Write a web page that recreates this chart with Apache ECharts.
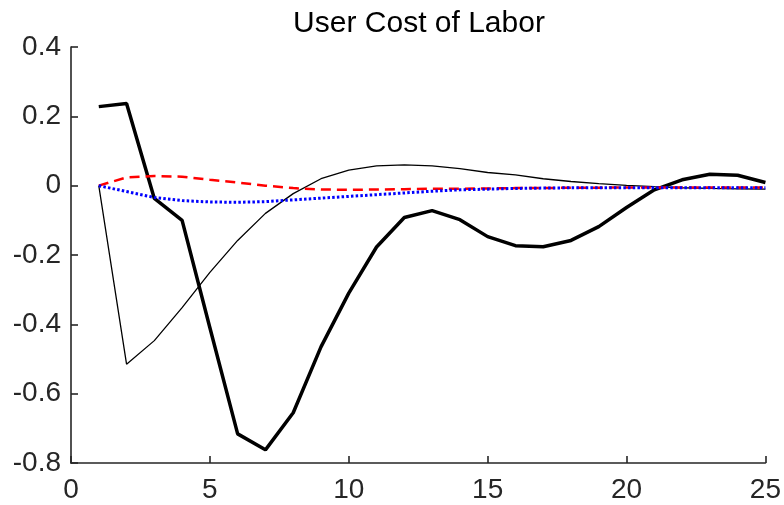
<!DOCTYPE html>
<html>
<head>
<meta charset="utf-8">
<script src="https://cdn.jsdelivr.net/npm/echarts@6/dist/echarts.min.js"></script>
<style>
	html, body { margin: 0; padding: 0; background: #fff; }
	#chart { width: 784px; height: 505px; }
</style>
</head>
<body>
<div id="chart"></div>
<script>
let periods = [1, 2, 3, 4, 5, 6, 7, 8, 9, 10, 11, 12, 13, 14, 15, 16, 17, 18, 19, 20, 21, 22, 23, 24, 25];

let thickBlack = [0.228, 0.237, -0.037, -0.100, -0.41, -0.716, -0.762, -0.655, -0.465, -0.31, -0.177, -0.092, -0.072, -0.098, -0.147, -0.173, -0.176, -0.158, -0.118, -0.063, -0.012, 0.017, 0.033, 0.030, 0.009];
let thinBlack = [0, -0.515, -0.447, -0.352, -0.25, -0.158, -0.08, -0.023, 0.02, 0.045, 0.057, 0.06, 0.057, 0.049, 0.038, 0.031, 0.02, 0.012, 0.006, 0.001, -0.003, -0.006, -0.008, -0.009, -0.01];
let redDashed = [0, 0.024, 0.028, 0.026, 0.017, 0.009, 0.0, -0.007, -0.011, -0.012, -0.011, -0.01, -0.009, -0.009, -0.008, -0.007, -0.007, -0.006, -0.006, -0.005, -0.005, -0.005, -0.005, -0.005, -0.005];
let blueDotted = [0, -0.017, -0.034, -0.043, -0.047, -0.048, -0.046, -0.041, -0.036, -0.031, -0.026, -0.021, -0.016, -0.012, -0.01, -0.008, -0.007, -0.006, -0.006, -0.006, -0.006, -0.006, -0.006, -0.006, -0.006];

let xTicks = [0, 5, 10, 15, 20, 25];
let yTicks = [-0.8, -0.6, -0.4, -0.2, 0, 0.2, 0.4];

function pairs(values) {
	return periods.map((p, i) => [p, values[i]]);
}

function lineSeries(name, values, color, width, type) {
	return {
		name: name,
		type: "line",
		data: pairs(values),
		symbol: "none",
		smooth: false,
		lineStyle: { color: color, width: width, type: type, cap: "butt" },
		silent: true,
	};
}

let chart = echarts.init(document.getElementById("chart"), null, { renderer: "canvas" });

let axisColor = "#262626";
let font = "'Liberation Sans', Arial, sans-serif";

let option = {
	animation: false,
	backgroundColor: "#fff",
	title: {
		text: "User Cost of Labor",
		left: 414,
		top: 4,
		textAlign: "center",
		textStyle: { fontFamily: font, fontSize: 30, fontWeight: "normal", color: "#000" },
	},
	grid: { left: 71, right: 18, top: 47, bottom: 42, containLabel: false },
	xAxis: {
		type: "value",
		min: xTicks[0],
		max: xTicks[xTicks.length - 1],
		interval: 5,
		axisLine: { show: true, onZero: false, lineStyle: { color: axisColor, width: 1.6 } },
		axisTick: { show: true, inside: true, length: 7, lineStyle: { color: axisColor, width: 1.6 } },
		axisLabel: { color: axisColor, fontFamily: font, fontSize: 28, margin: 13 },
		splitLine: { show: false },
	},
	yAxis: {
		type: "value",
		min: yTicks[0],
		max: yTicks[yTicks.length - 1],
		interval: 0.2,
		axisLine: { show: true, onZero: false, lineStyle: { color: axisColor, width: 1.6 } },
		axisTick: { show: true, inside: true, length: 7, lineStyle: { color: axisColor, width: 1.6 } },
		axisLabel: {
			color: axisColor,
			fontFamily: font,
			fontSize: 28,
			margin: 10,
			formatter: function (v) {
				return String(+v.toFixed(1));
			},
		},
		splitLine: { show: false },
	},
	series: [
		lineSeries("thick", thickBlack, "#000", 3.5, "solid"),
		lineSeries("thin", thinBlack, "#000", 1.3, "solid"),
		lineSeries("red", redDashed, "#ff0000", 2.5, [10, 6]),
		lineSeries("blue", blueDotted, "#0000ff", 3, [2.5, 2.2]),
	],
};

chart.setOption(option);
window.addEventListener("resize", chart.resize);
</script>
</body>
</html>
